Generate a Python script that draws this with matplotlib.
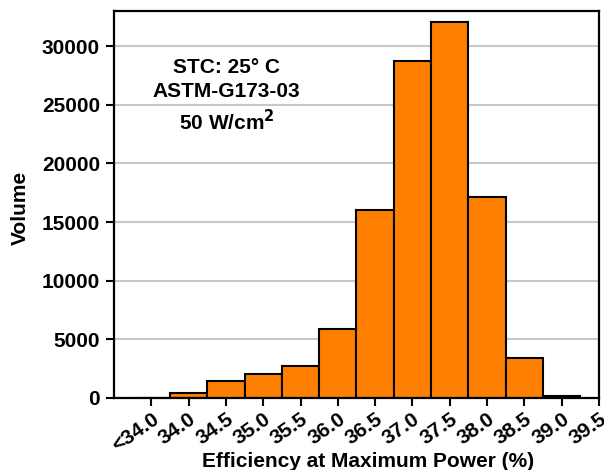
import matplotlib.pyplot as plt

plt.rcParams.update({"font.family": "Liberation Sans", "font.weight": "bold"})

bins = ["<34.0", "34.0", "34.5", "35.0", "35.5", "36.0", "36.5",
        "37.0", "37.5", "38.0", "38.5", "39.0", "39.5"]
volume = [20, 450, 1480, 2020, 2720, 5900, 16000,
          28750, 32050, 17100, 3450, 150]


def main():
    fig = plt.figure(figsize=(6.04, 4.70), dpi=100)
    ax = fig.add_axes([0.1887, 0.1532, 0.803, 0.8234])

    x = list(range(1, len(volume) + 1))
    ax.bar(x, volume, width=1.0, color="#ff8000", edgecolor="black",
           linewidth=1.5, zorder=3)

    ax.set_xlim(0, 13)
    ax.set_ylim(0, 33000)
    ax.set_yticks(range(0, 30001, 5000))
    ax.set_xticks(range(1, len(bins) + 1))
    ax.set_xticklabels(bins, rotation=35, ha="right", rotation_mode="anchor")
    ax.yaxis.grid(True, color="#c8c8c8", linewidth=1.5, zorder=0)
    ax.set_axisbelow(True)

    for s in ax.spines.values():
        s.set_linewidth(1.6)
        s.set_zorder(4)
    ax.tick_params(axis="both", direction="out", length=6, width=1.5,
                   labelsize=15)
    ax.tick_params(axis="y", pad=4)
    ax.tick_params(axis="x", pad=2)

    ax.set_ylabel("Volume", fontsize=15, fontweight="bold", va="center")
    ax.yaxis.set_label_coords(-0.194, 0.49)
    ax.set_xlabel("Efficiency at Maximum Power (%)", fontsize=15,
                  fontweight="bold", va="center")
    ax.xaxis.set_label_coords(0.524, -0.165)

    ax.text(0.232, 0.878, "STC: 25° C\nASTM-G173-03\n50 W/cm$^{\\mathbf{2}}$",
            transform=ax.transAxes, ha="center", va="top", fontsize=15,
            fontweight="bold", linespacing=1.35)

    fig.savefig("out.png")


if __name__ == "__main__":
    main()
